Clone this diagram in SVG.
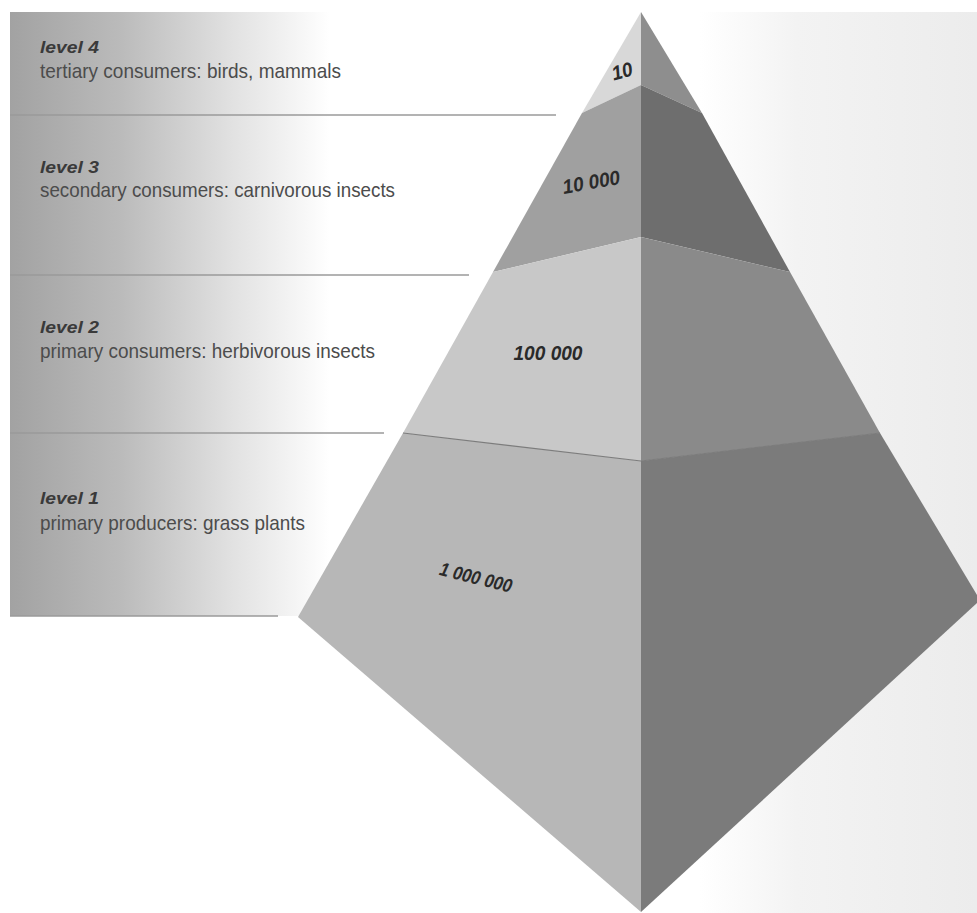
<svg xmlns="http://www.w3.org/2000/svg" width="977" height="913" viewBox="0 0 977 913">
  <defs>
    <linearGradient id="panelGrad" x1="10" y1="0" x2="330" y2="0" gradientUnits="userSpaceOnUse">
      <stop offset="0" stop-color="#a2a2a2"/>
      <stop offset="0.35" stop-color="#bbbbbb"/>
      <stop offset="0.7" stop-color="#e2e2e2"/>
      <stop offset="1" stop-color="#ffffff"/>
    </linearGradient>
    <linearGradient id="paperGrad" x1="700" y1="0" x2="977" y2="0" gradientUnits="userSpaceOnUse">
      <stop offset="0" stop-color="#ffffff"/>
      <stop offset="0.35" stop-color="#f3f3f3"/>
      <stop offset="1" stop-color="#ececec"/>
    </linearGradient>
  </defs>
  <style>
    .lvl { font-family: "Liberation Sans", Arial, sans-serif; font-weight: bold; font-style: italic; font-size: 17px; fill: #3a3a3a; }
    .desc { font-family: "Liberation Sans", Arial, sans-serif; font-size: 21px; fill: #4c4c4c; }
    .num { font-family: "Liberation Sans", Arial, sans-serif; font-weight: bold; font-style: italic; fill: #2a2a2a; }
    .divider { stroke: #9a9a9a; stroke-width: 1.3; fill: none; }
    .edge { stroke: #7c7c7c; stroke-width: 1.2; fill: none; }
  </style>

  <rect x="0" y="0" width="977" height="913" fill="#ffffff"/>
  <rect x="700" y="12" width="277" height="901" fill="url(#paperGrad)"/>

  <!-- left label panel -->
  <rect x="10" y="12" width="320" height="604" fill="url(#panelGrad)"/>

  <g id="dividers">
    <line class="divider" x1="10" y1="115" x2="556" y2="115"/>
    <line class="divider" x1="10" y1="275" x2="469" y2="275"/>
    <line class="divider" x1="10" y1="433" x2="384" y2="433"/>
    <line class="divider" x1="10" y1="616" x2="278" y2="616"/>
  </g>

  <g id="level4">
    <polygon points="641,12 582,113 641,85" fill="#d8d8d8"/>
    <polygon points="641,12 641,85 702,113" fill="#8e8e8e"/>
    <text class="lvl" x="40" y="53" textLength="59" lengthAdjust="spacingAndGlyphs">level 4</text>
    <text class="desc" x="40" y="78" textLength="301" lengthAdjust="spacingAndGlyphs">tertiary consumers: birds, mammals</text>
    <text class="num" font-size="20" x="622" y="78" text-anchor="middle" textLength="21" lengthAdjust="spacingAndGlyphs" transform="rotate(-15 622 71)">10</text>
  </g>

  <g id="level3">
    <polygon points="582,113 641,85 641,237 493,272" fill="#a0a0a0"/>
    <polygon points="641,85 702,113 790,272 641,237" fill="#6e6e6e"/>
    <text class="lvl" x="40" y="173" textLength="59" lengthAdjust="spacingAndGlyphs">level 3</text>
    <text class="desc" x="40" y="197" textLength="355" lengthAdjust="spacingAndGlyphs">secondary consumers: carnivorous insects</text>
    <text class="num" font-size="20" x="591" y="189" text-anchor="middle" textLength="58" lengthAdjust="spacingAndGlyphs" transform="rotate(-10 591 181)">10 000</text>
  </g>

  <g id="level2">
    <polygon points="493,272 641,237 641,461 403,433" fill="#c8c8c8"/>
    <polygon points="641,237 790,272 880,433 641,461" fill="#8a8a8a"/>
    <text class="lvl" x="40" y="333" textLength="59" lengthAdjust="spacingAndGlyphs">level 2</text>
    <text class="desc" x="40" y="358" textLength="335" lengthAdjust="spacingAndGlyphs">primary consumers: herbivorous insects</text>
    <text class="num" font-size="21" x="548" y="360" text-anchor="middle" textLength="69" lengthAdjust="spacingAndGlyphs">100 000</text>
  </g>

  <g id="level1">
    <polygon points="403,433 641,461 641,912 298,617" fill="#b7b7b7"/>
    <polygon points="641,461 880,433 977,595 977,603 641,912" fill="#7b7b7b"/>
    <text class="lvl" x="40" y="504" textLength="59" lengthAdjust="spacingAndGlyphs">level 1</text>
    <text class="desc" x="40" y="530" textLength="265" lengthAdjust="spacingAndGlyphs">primary producers: grass plants</text>
    <text class="num" font-size="19" x="476" y="584" text-anchor="middle" textLength="74" lengthAdjust="spacingAndGlyphs" transform="rotate(14 476 577)">1 000 000</text>
  </g>

  <g id="edges">
    <polyline class="edge" points="403,433 641,461 880,433"/>
  </g>
</svg>
